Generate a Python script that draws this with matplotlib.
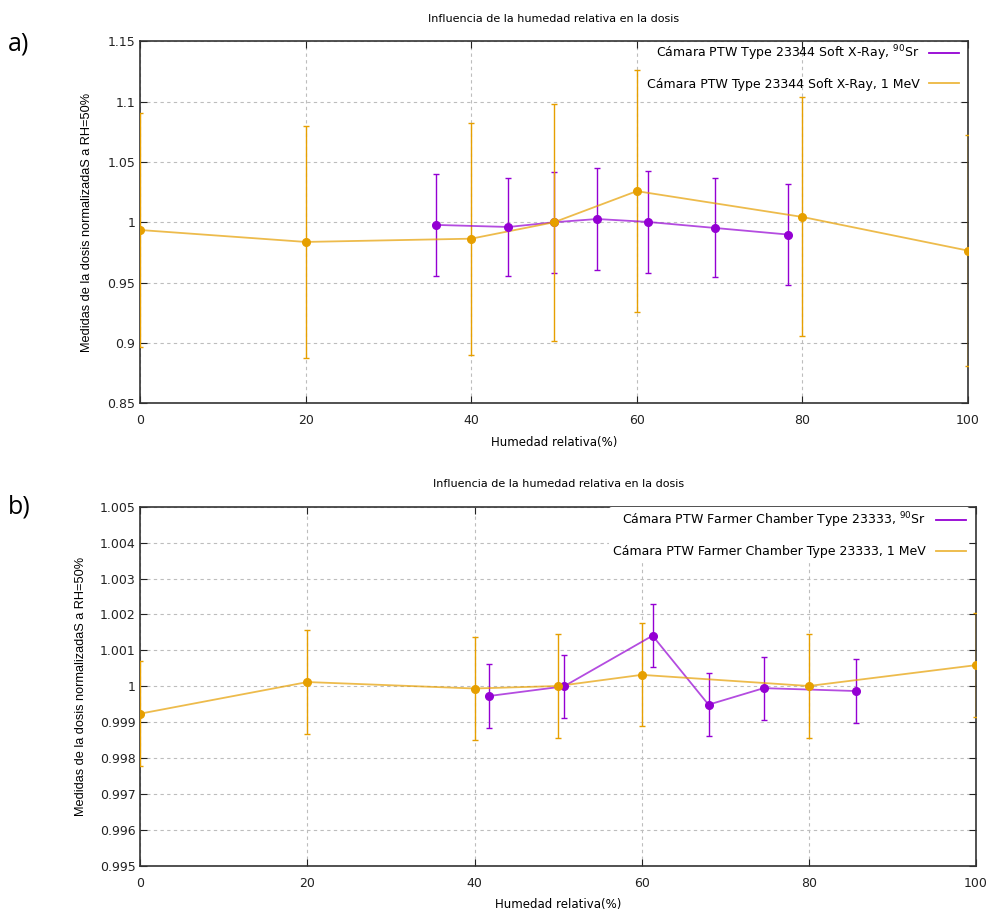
import numpy as np
import matplotlib
matplotlib.use("Agg")
import matplotlib.pyplot as plt
from matplotlib.lines import Line2D
from matplotlib.ticker import FuncFormatter

# Panel a) PTW Type 23344 Soft X-Ray
a_sr_x = [35.8, 44.5, 50.0, 55.2, 61.3, 69.4, 78.3]
a_sr_y = [0.9978, 0.9961, 1.0000, 1.0027, 1.0003, 0.9953, 0.9898]
a_sr_err = [0.042, 0.041, 0.042, 0.042, 0.042, 0.041, 0.042]

a_mev_x = [0, 20, 40, 50, 60, 80, 100]
a_mev_y = [0.9936, 0.9837, 0.9864, 1.0000, 1.0258, 1.0044, 0.9765]
a_mev_err = [0.097, 0.096, 0.096, 0.098, 0.100, 0.099, 0.096]

# Panel b) PTW Farmer Chamber Type 23333
b_sr_x = [41.7, 50.7, 61.3, 68.0, 74.6, 85.6]
b_sr_y = [0.99973, 1.00000, 1.00141, 0.99949, 0.99995, 0.99987]
b_sr_err = [0.00088, 0.00088, 0.00088, 0.00088, 0.00088, 0.00088]

b_mev_x = [0, 20, 40, 50, 60, 80, 100]
b_mev_y = [0.99924, 1.00012, 0.99994, 1.00001, 1.00032, 1.00001, 1.00059]
b_mev_err = [0.00147, 0.00144, 0.00143, 0.00145, 0.00143, 0.00145, 0.00145]

title = "Influencia de la humedad relativa en la dosis"
xlabel = "Humedad relativa(%)"
ylabel = "Medidas de la dosis normalizadaS a RH=50%"

PURPLE = "#9400d3"
ORANGE = "#e69f00"

plt.rcParams["font.family"] = ["DejaVu Sans"]

fig = plt.figure(figsize=(9.88, 9.13), dpi=100)
ax_a = fig.add_axes([0.1417, 0.5583, 0.8381, 0.3965])
ax_b = fig.add_axes([0.1420, 0.0515, 0.8458, 0.3935])


def draw_series(ax, x, y, err, color):
    ax.errorbar(x, y, yerr=err, fmt="none", ecolor=color, elinewidth=1.0,
                capsize=2, capthick=1.0, zorder=3)
    ax.plot(x, y, color=color, linewidth=1.3, alpha=0.7, zorder=4)
    ax.plot(x, y, linestyle="none", marker="o", markersize=5.5,
            color=color, zorder=5)


def style_axes(ax, ylim, yticks, labels, ylabelpad, legend_bg, anchor):
    ax.set_xlim(0, 100)
    ax.set_ylim(*ylim)
    ax.set_xticks([0, 20, 40, 60, 80, 100])
    ax.set_yticks(yticks)
    ax.yaxis.set_major_formatter(FuncFormatter(lambda v, p: "%g" % round(v, 4)))
    ax.tick_params(direction="in", top=True, right=True, length=5,
                   labelsize=9, colors="#222222")
    ax.tick_params(axis="x", pad=8)
    ax.grid(True, linestyle=(0, (3, 3)), color="#bdbdbd", linewidth=0.8)
    ax.set_axisbelow(True)
    for s in ax.spines.values():
        s.set_color("#333333")
        s.set_linewidth(1.2)
    ax.set_title(title, fontsize=8, pad=14)
    ax.set_xlabel(xlabel, fontsize=8.5, labelpad=6)
    ax.set_ylabel(ylabel, fontsize=9.2, family="Liberation Sans",
                  labelpad=ylabelpad)
    handles = [Line2D([], [], color=PURPLE, linewidth=1.3),
               Line2D([], [], color=ORANGE, linewidth=1.3, alpha=0.75)]
    leg = ax.legend(handles, labels, loc="upper right", bbox_to_anchor=anchor,
                    markerfirst=False, frameon=legend_bg, framealpha=1.0,
                    edgecolor="white", fontsize=9, handlelength=2.4,
                    labelspacing=1.2, borderaxespad=0.0, borderpad=0.3)
    if legend_bg:
        leg.get_frame().set_linewidth(0)
    for t in leg.get_texts():
        t.set_ha("right")


draw_series(ax_a, a_sr_x, a_sr_y, a_sr_err, PURPLE)
draw_series(ax_a, a_mev_x, a_mev_y, a_mev_err, ORANGE)
style_axes(ax_a, (0.85, 1.15), [0.85, 0.9, 0.95, 1.0, 1.05, 1.1, 1.15],
           ["Cámara PTW Type 23344 Soft X-Ray, $^{90}$Sr",
            "Cámara PTW Type 23344 Soft X-Ray, 1 MeV"], 10, False,
           (0.994, 1.005))

draw_series(ax_b, b_sr_x, b_sr_y, b_sr_err, PURPLE)
draw_series(ax_b, b_mev_x, b_mev_y, b_mev_err, ORANGE)
style_axes(ax_b, (0.995, 1.005), [0.995 + 0.001 * i for i in range(11)],
           ["Cámara PTW Farmer Chamber Type 23333, $^{90}$Sr",
            "Cámara PTW Farmer Chamber Type 23333, 1 MeV"], 9, True,
           (0.992, 1.0))

fig.text(0.008, 0.945, "a)", fontsize=18, family="Open Sans")
fig.text(0.008, 0.438, "b)", fontsize=18, family="Open Sans")

fig.savefig("out.png", dpi=100)
